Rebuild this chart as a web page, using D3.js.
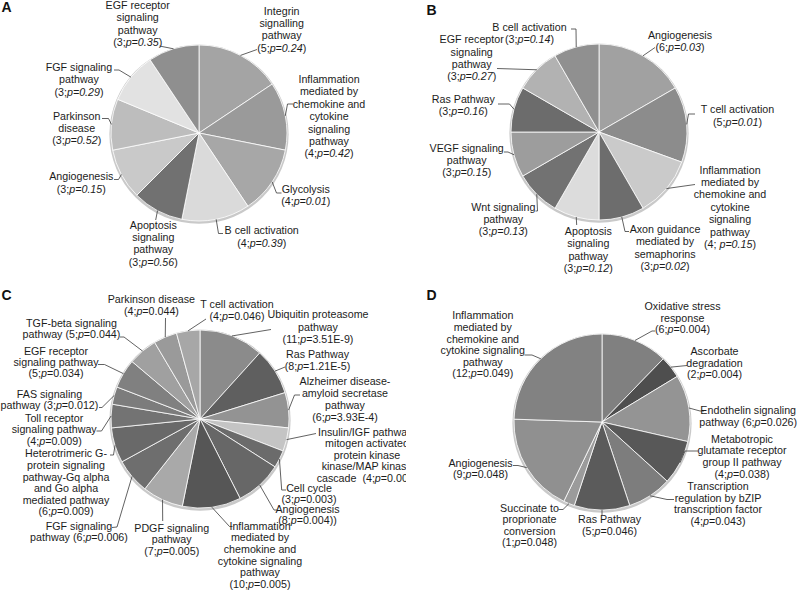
<!DOCTYPE html>
<html><head><meta charset="utf-8">
<script src="https://cdn.jsdelivr.net/npm/d3@7"></script>
<style>body{margin:0;background:#fff}svg{display:block}text{white-space:pre}</style>
</head><body>
<svg id="chart" width="800" height="591"></svg>
<script>
// ---------- DATA ----------
// Panel A
const aNames = ["Integrin|signalling|pathway", "Inflammation|mediated by|chemokine and|cytokine|signaling|pathway", "Glycolysis", "B cell activation", "Apoptosis|signaling|pathway", "Angiogenesis", "Parkinson|disease", "FGF signaling|pathway", "EGF receptor|signaling|pathway"];
const aCounts = [5, 4, 4, 4, 3, 3, 3, 3, 3];
const aP = ["0.24", "0.42", "0.01", "0.39", "0.56", "0.15", "0.52", "0.29", "0.35"];
const aColors = ["#a4a4a4", "#9a9a9a", "#a7a7a7", "#dadada", "#717171", "#c9c9c9", "#bdbdbd", "#e2e2e2", "#8f8f8f"];

// Panel B
const bNames = ["Angiogenesis", "T cell activation", "Inflammation|mediated by|chemokine and|cytokine|signaling|pathway", "Axon guidance|mediated by|semaphorins", "Apoptosis|signaling|pathway", "Wnt signaling|pathway", "VEGF signaling|pathway", "Ras Pathway", "EGF receptor|signaling|pathway", "B cell activation"];
const bCounts = [6, 5, 4, 3, 3, 3, 3, 3, 3, 3];
const bP = ["0.03", "0.01", "0.15", "0.02", "0.12", "0.13", "0.15", "0.16", "0.27", "0.14"];
const bSep = [";", ";", "; ", ";", ";", ";", ";", ";", ";", ";"];
const bColors = ["#a1a1a1", "#8c8c8c", "#cacaca", "#6d6d6d", "#dcdcdc", "#727272", "#9d9d9d", "#6c6c6c", "#b2b2b2", "#909090"];

// Panel C
const cNames = ["Ubiquitin proteasome|pathway", "Ras Pathway", "Alzheimer disease-|amyloid secretase|pathway", "Insulin/IGF pathway-|mitogen activated|protein kinase|kinase/MAP kinase|cascade  ", "Cell cycle", "Angiogenesis", "Inflammation|mediated by|chemokine and|cytokine signaling|pathway", "PDGF signaling|pathway", "FGF signaling|pathway ", "Heterotrimeric G-|protein signaling|pathway-Gq alpha|and Go alpha|mediated pathway", "Toll receptor|signaling pathway", "FAS signaling|pathway ", "EGF receptor|signaling pathway", "TGF-beta signaling|pathway ", "Parkinson disease", "T cell activation"];
const cCounts = [11, 8, 6, 4, 3, 8, 10, 7, 6, 6, 4, 3, 5, 5, 4, 4];
const cP = ["3.51E-9", "1.21E-5", "3.93E-4", "0.001", "0.003", "0.004)", "0.005", "0.005", "0.006", "0.009", "0.009", "0.012", "0.034", "0.044", "0.044", "0.046"];
const cColors = ["#8b8b8b", "#5f5f5f", "#939393", "#c4c4c4", "#6b6b6b", "#676767", "#565656", "#a9a9a9", "#6e6e6e", "#696969", "#737373", "#7c7c7c", "#808080", "#a0a0a0", "#9a9a9a", "#a7a7a7"];

// Panel D
const dNames = ["Oxidative stress|response", "Ascorbate|degradation", "Endothelin signaling|pathway ", "Metabotropic|glutamate receptor|group II pathway", "Transcription|regulation by bZIP|transcription factor", "Ras Pathway", "Succinate to|proprionate|conversion", "Angiogenesis", "Inflammation|mediated by|chemokine and|cytokine signaling|pathway"];
const dCounts = [6, 2, 6, 4, 4, 5, 1, 9, 12];
const dP = ["0.004", "0.004", "0.026", "0.038", "0.043", "0.046", "0.048", "0.048", "0.049"];
const dColors = ["#808080", "#4e4e4e", "#949494", "#585858", "#7d7d7d", "#5b5b5b", "#9b9b9b", "#909090", "#828282"];

// ---------- LAYOUT (label x, first baseline y, line height, leader bend points) ----------
const aLayout = [
  [281.7, 14.5, 12.4, [[257, 49.5]]],
  [329, 83, 12.4, [[287.5, 104], [293, 104]]],
  [305.7, 193, 12.4, [[276.5, 193], [281.5, 193]]],
  [261.7, 234.3, 12.4, [[218.5, 233.5], [223, 233.5]]],
  [153.3, 228.5, 12.4, [[155.7, 220]]],
  [81.3, 180, 12.6, [[118.5, 179.5], [114, 179.5]]],
  [76.7, 119.5, 12.4, [[108.5, 118.5], [102, 118.5]]],
  [79, 71, 12.4, [[119, 70], [114, 70]]],
  [137.7, 9, 12.4, [[159.5, 46]]]
];
const bLayout = [
  [680, 38.5, 12.4, [[655, 47.5]]],
  [737.5, 113.3, 12.4, [[688.5, 114], [695, 114]]],
  [730, 173.5, 12.4, [[695, 184.5]]],
  [665, 232.7, 12.4, [[625, 231.5], [629, 231.5]]],
  [588.3, 235, 12.4, [[576.7, 225]]],
  [503.3, 210.7, 12.2, [[537.5, 211], [535.5, 211]]],
  [466.7, 152, 12, [[508, 152], [504, 152]]],
  [463.3, 102.7, 12.4, [[509.5, 104], [498, 104]]],
  [471.7, 43.3, 12.3, [[497, 68.5]]],
  [529.5, 30.7, 12, [[576, 29], [571, 29]]]
];
const cLayout = [
  [318, 318.3, 12.2, [[271, 329.5]]],
  [317.5, 358.3, 11.8, [[285, 367]]],
  [345, 385, 12, [[294.5, 395], [300, 395]]],
  [367, 435.5, 11.6, [[316, 433.5]]],
  [309, 492.3, 10.8, [[281.7, 490], [286, 490]]],
  [307.5, 512.5, 11.2, [[274, 510], [277, 510]]],
  [260, 529.8, 11.6, [[229.5, 526.5], [232.5, 526.5]]],
  [171.7, 531.7, 11.7, [[162.7, 521]]],
  [79, 529.5, 11, [[117, 527], [112, 527.5]]],
  [66, 457.3, 11.6, [[113.5, 455], [110, 455]]],
  [54.2, 421.5, 11.5, [[101.5, 431], [96.5, 431]]],
  [49.5, 397.5, 11.3, [[102, 407.5], [99, 407.5]]],
  [56, 354.5, 11.3, [[104.5, 364.5], [98, 364.5]]],
  [71.5, 326.5, 11.8, [[124, 337], [120, 337]]],
  [151.4, 303.3, 11.7, [[165.5, 318]]],
  [237, 308.3, 11.7, [[206, 319]]]
];
const dLayout = [
  [682.5, 310, 11.7, [[652, 331], [655, 331]]],
  [714.5, 355, 11.7, [[687, 365.5]]],
  [748.2, 414, 11.7, [[700, 411], [704, 411]]],
  [742, 442.7, 11.7, [[685, 451], [698, 451]]],
  [718, 490, 11.5, [[667, 499.5], [674, 499.5]]],
  [609.5, 523.3, 11.7, [[602, 515]]],
  [529.5, 511.7, 11.5, [[563, 509.5], [558.5, 509.5]]],
  [480.5, 466.7, 11.6, [[518, 465.5], [513, 465.5]]],
  [482.8, 319.3, 11.6, [[532, 355], [524.5, 355]]]
];

const FONT = "'Liberation Sans', Arial, sans-serif";
const svg = d3.select("#chart");
const defs = svg.append("defs");
defs.append("clipPath").attr("id", "clipC").append("rect").attr("x", 0).attr("y", 280).attr("width", 406).attr("height", 311);

function statSegs(count, p, sep, style) {
  if (style === "whole") return [{t: "(" + count + sep}, {t: "p=" + p, it: true}, {t: ")"}];
  return [{t: "(" + count + sep}, {t: "p", it: true}, {t: "=" + p + ")"}];
}

function drawPanel(cfg) {
  const g = svg.append("g");
  if (cfg.clip) g.attr("clip-path", "url(#" + cfg.clip + ")");
  const arcs = d3.pie().sort(null).value(d => d)(cfg.counts);
  const arc = d3.arc().innerRadius(0).outerRadius(cfg.r);
  g.append("circle").attr("cx", cfg.cx).attr("cy", cfg.cy + 1.2).attr("r", cfg.r + 1.6).attr("fill", "#c9c9c9");
  const pg = g.append("g").attr("transform", `translate(${cfg.cx},${cfg.cy})`);
  pg.selectAll("path").data(arcs).join("path")
    .attr("d", arc).attr("fill", (d, i) => cfg.colors[i])
    .attr("stroke", "#ffffff").attr("stroke-width", 0.8).attr("stroke-linejoin", "round");
  arcs.forEach((d, i) => {
    const a = (d.startAngle + d.endAngle) / 2;
    const p0 = [cfg.cx + cfg.r * Math.sin(a), cfg.cy - cfg.r * Math.cos(a)];
    const pts = [p0].concat(cfg.layout[i][3]);
    g.append("path").attr("d", d3.line()(pts)).attr("fill", "none")
      .attr("stroke", "#3a3a3a").attr("stroke-width", 0.8);
  });
  cfg.names.forEach((name, i) => {
    const [x, y, lh] = cfg.layout[i];
    const parts = name.split("|");
    const sep = cfg.seps ? cfg.seps[i] : ";";
    const stat = statSegs(cfg.counts[i], cfg.pvals[i], sep, cfg.style);
    let lines = parts.map(s => [{t: s}]);
    if (/ $/.test(parts[parts.length - 1])) {
      lines[lines.length - 1] = lines[lines.length - 1].concat(stat);
    } else {
      lines.push(stat);
    }
    lines.forEach((segs, j) => {
      const t = g.append("text").attr("x", x).attr("y", y + j * lh)
        .attr("text-anchor", "middle").attr("font-family", FONT)
        .attr("font-size", 10.7).attr("fill", "#1c1c1c");
      segs.forEach(s => {
        t.append("tspan").text(s.t).attr("font-style", s.it ? "italic" : "normal");
      });
    });
  });
}

drawPanel({cx: 199, cy: 133, r: 88, counts: aCounts, names: aNames, pvals: aP, colors: aColors, layout: aLayout, style: "whole"});
drawPanel({cx: 599, cy: 132, r: 88, counts: bCounts, names: bNames, pvals: bP, seps: bSep, colors: bColors, layout: bLayout, style: "whole"});
drawPanel({cx: 200, cy: 419, r: 89, counts: cCounts, names: cNames, pvals: cP, colors: cColors, layout: cLayout, style: "p", clip: "clipC"});
drawPanel({cx: 602, cy: 422, r: 88, counts: dCounts, names: dNames, pvals: dP, colors: dColors, layout: dLayout, style: "p"});

const panelLetters = ["A", "B", "C", "D"];
const letterPos = [[1.5, 12], [426.5, 15], [1.5, 300], [426.5, 300]];
panelLetters.forEach((L, i) => {
  svg.append("text").attr("x", letterPos[i][0]).attr("y", letterPos[i][1])
    .attr("font-family", FONT).attr("font-weight", "bold").attr("font-size", 14)
    .attr("fill", "#111").text(L);
});
</script>
</body></html>
